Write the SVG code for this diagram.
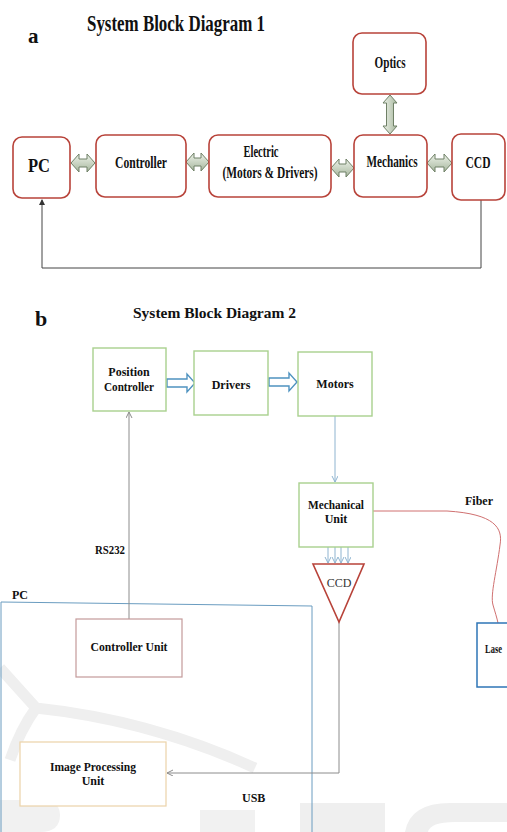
<svg xmlns="http://www.w3.org/2000/svg" width="507" height="832" viewBox="0 0 507 832">
<defs>
<style>
.t{font-family:"Liberation Serif","Times New Roman",serif;font-weight:bold;fill:#111;}
.r{font-family:"Liberation Serif","Times New Roman",serif;fill:#333;}
.rb{fill:#fff;stroke:#b8433a;stroke-width:1.6;}
.gb{fill:#fff;stroke:#a9d18e;stroke-width:1.4;}
.da{fill:url(#gg);stroke:#6f8066;stroke-width:1;}
.ha{fill:#fff;stroke:#4f93c0;stroke-width:1.4;}
.gl{fill:none;stroke:#8c8c8c;stroke-width:1;}
.bl{fill:none;stroke:#8fb4d0;stroke-width:1;}
.wm{fill:none;stroke:#efefef;stroke-width:11;}
</style>
<linearGradient id="gg" x1="0" y1="0" x2="0" y2="1">
<stop offset="0" stop-color="#eef3ea"/>
<stop offset="1" stop-color="#a7b79e"/>
</linearGradient>
<linearGradient id="ggv" x1="0" y1="0" x2="1" y2="0">
<stop offset="0" stop-color="#eef3ea"/>
<stop offset="1" stop-color="#a7b79e"/>
</linearGradient>
<marker id="ag" markerWidth="8" markerHeight="8" refX="6" refY="3" orient="auto" markerUnits="userSpaceOnUse">
<path d="M0,0 L6,3 L0,6" fill="none" stroke="#8c8c8c" stroke-width="1"/>
</marker>
<marker id="ad" markerWidth="8" markerHeight="8" refX="5" refY="3" orient="auto" markerUnits="userSpaceOnUse">
<path d="M0,0 L6,3 L0,6 Z" fill="#333"/>
</marker>
<marker id="ab" markerWidth="8" markerHeight="8" refX="6" refY="3" orient="auto" markerUnits="userSpaceOnUse">
<path d="M0,0 L6,3 L0,6" fill="none" stroke="#8fb4d0" stroke-width="1"/>
</marker>
</defs>
<rect width="507" height="832" fill="#fff"/>

<g id="watermark">
<path class="wm" d="M0,668 Q18,688 36,708 Q150,720 255,768"/>
<path class="wm" d="M36,708 Q20,730 10,760"/>
<rect x="300" y="803" width="85" height="29" fill="#efefef"/>
<path d="M405,832 Q410,803 450,803 L507,803 L507,822 L455,822 Q430,822 428,832 Z" fill="#efefef"/>
<rect x="200" y="810" width="55" height="22" fill="#f1f1f1"/>
<path d="M0,800 L40,800 Q60,800 60,815 Q60,832 40,832 L0,832 Z" fill="#f1f1f1"/>
</g>

<!-- Diagram a -->
<text class="t" x="28" y="43" font-size="21">a</text>
<text class="t" x="87" y="31" font-size="23" textLength="178" lengthAdjust="spacingAndGlyphs">System Block Diagram 1</text>

<g id="a-connectors">
<path class="da" d="M71,163 L79,154 L79,159 L87,159 L87,154 L95,163 L87,172 L87,167 L79,167 L79,172 Z"/>
<path class="da" d="M186,162 L194,153 L194,158 L201,158 L201,153 L209,162 L201,171 L201,166 L194,166 L194,171 Z"/>
<path class="da" d="M331,168 L339,159 L339,164 L346,164 L346,159 L354,168 L346,177 L346,172 L339,172 L339,177 Z"/>
<path class="da" d="M427,163 L435,154 L435,159 L444,159 L444,154 L452,163 L444,172 L444,167 L435,167 L435,172 Z"/>
<path d="M390,95 L397,103 L393.5,103 L393.5,126 L397,126 L390,134 L383,126 L386.5,126 L386.5,103 L383,103 Z" fill="url(#ggv)" stroke="#6f8066" stroke-width="1"/>
<path d="M481,200 L481,268 L42,268 L42,200" fill="none" stroke="#444" stroke-width="1" marker-end="url(#ad)"/>
</g>

<g id="a-optics">
<rect class="rb" x="353" y="33" width="73" height="61" rx="9"/>
<text class="t" x="390" y="68" font-size="17" text-anchor="middle" textLength="31" lengthAdjust="spacingAndGlyphs">Optics</text>
</g>
<g id="a-pc">
<rect class="rb" x="13" y="137" width="57" height="61" rx="9"/>
<text class="t" x="39" y="172" font-size="18" text-anchor="middle" textLength="22" lengthAdjust="spacingAndGlyphs">PC</text>
</g>
<g id="a-controller">
<rect class="rb" x="96" y="135" width="90" height="62" rx="9"/>
<text class="t" x="141" y="168" font-size="17" text-anchor="middle" textLength="52" lengthAdjust="spacingAndGlyphs">Controller</text>
</g>
<g id="a-electric">
<rect class="rb" x="209" y="135" width="122" height="62" rx="9"/>
<text class="t" x="261" y="157" font-size="17" text-anchor="middle" textLength="35" lengthAdjust="spacingAndGlyphs">Electric</text>
<text class="t" x="270" y="178" font-size="17" text-anchor="middle" textLength="95" lengthAdjust="spacingAndGlyphs">(Motors &amp; Drivers)</text>
</g>
<g id="a-mechanics">
<rect class="rb" x="354" y="135" width="73" height="62" rx="9"/>
<text class="t" x="392" y="167" font-size="17" text-anchor="middle" textLength="51" lengthAdjust="spacingAndGlyphs">Mechanics</text>
</g>
<g id="a-ccd">
<rect class="rb" x="452" y="134" width="53" height="66" rx="9"/>
<text class="t" x="478" y="168" font-size="17" text-anchor="middle" textLength="25" lengthAdjust="spacingAndGlyphs">CCD</text>
</g>

<!-- Diagram b -->
<text class="t" x="35" y="326" font-size="22">b</text>
<text class="t" x="133" y="318" font-size="15.5" textLength="163" lengthAdjust="spacingAndGlyphs">System Block Diagram 2</text>

<g id="pc-region">
<path d="M1,832 L1,602 L312,606 L312,832" fill="none" stroke="#6a9cc0" stroke-width="1"/>
<text class="t" x="12" y="599" font-size="12">PC</text>
</g>

<g id="b-connectors">
<path class="ha" d="M167,379 L187,379 L187,374 L195,383 L187,392 L187,387 L167,387 Z"/>
<path class="ha" d="M269,378 L289,378 L289,373 L297,382 L289,391 L289,386 L269,386 Z"/>
<line class="bl" x1="335" y1="416" x2="335" y2="482" marker-end="url(#ab)"/>
<line class="bl" x1="328" y1="547" x2="328" y2="563" marker-end="url(#ab)"/>
<line class="bl" x1="335" y1="547" x2="335" y2="563" marker-end="url(#ab)"/>
<line class="bl" x1="341" y1="547" x2="341" y2="563" marker-end="url(#ab)"/>
<line class="bl" x1="348" y1="547" x2="348" y2="563" marker-end="url(#ab)"/>
<line class="gl" x1="129" y1="619" x2="129" y2="412" marker-end="url(#ag)"/>
<path class="gl" d="M339,622 L339,773 L167,773" marker-end="url(#ag)"/>
<path d="M373,511 L447,511 C495,514 503,528 500,545 C497,570 490,595 493,605 C495,612 497,618 498,623" fill="none" stroke="#d07070" stroke-width="1"/>
<text class="t" x="95" y="554" font-size="12" textLength="30" lengthAdjust="spacingAndGlyphs">RS232</text>
<text class="t" x="465" y="505" font-size="12">Fiber</text>
<text class="t" x="242" y="802" font-size="12">USB</text>
</g>

<g id="b-position-controller">
<rect class="gb" x="93" y="348" width="73" height="63"/>
<text class="t" x="129" y="376" font-size="12" text-anchor="middle">Position</text>
<text class="t" x="129" y="391" font-size="12" text-anchor="middle" textLength="50" lengthAdjust="spacingAndGlyphs">Controller</text>
</g>
<g id="b-drivers">
<rect class="gb" x="194" y="351" width="74" height="64"/>
<text class="t" x="231" y="389" font-size="12" text-anchor="middle">Drivers</text>
</g>
<g id="b-motors">
<rect class="gb" x="298" y="352" width="74" height="64"/>
<text class="t" x="335" y="388" font-size="12" text-anchor="middle">Motors</text>
</g>
<g id="b-mechanical">
<rect class="gb" x="299" y="483" width="74" height="64"/>
<text class="t" x="336" y="509" font-size="12" text-anchor="middle" textLength="56" lengthAdjust="spacingAndGlyphs">Mechanical</text>
<text class="t" x="336" y="523" font-size="12" text-anchor="middle">Unit</text>
</g>
<g id="b-ccd">
<path d="M313,564 L364,564 L339,622 Z" fill="#fff" stroke="#b8433a" stroke-width="1.6"/>
<text class="r" x="339" y="587" font-size="12" text-anchor="middle">CCD</text>
</g>
<g id="b-laser">
<rect x="477" y="623" width="40" height="64" fill="#fff" stroke="#2e75b6" stroke-width="1.5"/>
<text class="t" x="485" y="653" font-size="11.5" textLength="17" lengthAdjust="spacingAndGlyphs">Lase</text>
</g>
<g id="b-controller-unit">
<rect x="76" y="619" width="106" height="58" fill="#fff" stroke="#c49a9a" stroke-width="1.2"/>
<text class="t" x="129" y="651" font-size="12" text-anchor="middle" textLength="77" lengthAdjust="spacingAndGlyphs">Controller Unit</text>
</g>
<g id="b-image-processing">
<rect x="20" y="742" width="146" height="64" fill="#fff" stroke="#ecd3a8" stroke-width="1.2"/>
<text class="t" x="93" y="771" font-size="12" text-anchor="middle" textLength="86" lengthAdjust="spacingAndGlyphs">Image Processing</text>
<text class="t" x="93" y="785" font-size="12" text-anchor="middle">Unit</text>
</g>
</svg>
